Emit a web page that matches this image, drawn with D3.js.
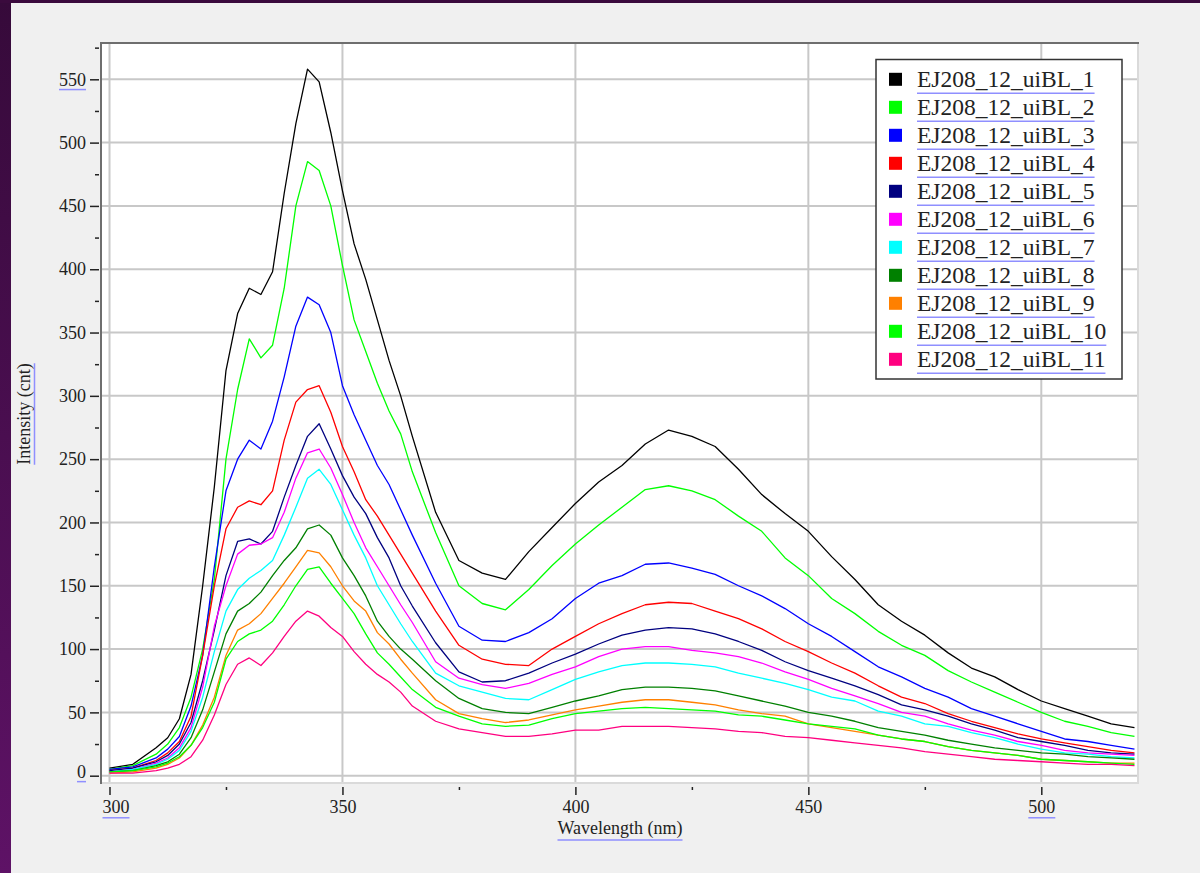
<!DOCTYPE html>
<html>
<head>
<meta charset="utf-8">
<script src="https://cdn.jsdelivr.net/npm/d3@7"></script>
<style>
html, body { margin: 0; padding: 0; background: #f0f0f0; }
svg { display: block; }
text { font-family: "Liberation Serif", "Times New Roman", serif; fill: #222; }
</style>
</head>
<body>
<svg id="chart" width="1200" height="873"></svg>
<script>
// wavelength grid (nm) the spectra were read at
const wavelengths = [300, 305, 310, 312.5, 315, 317.5, 320, 322.5, 325, 327.5, 330, 332.5, 335, 337.5,
    340, 342.5, 345, 347.5, 350, 352.5, 355, 357.5, 360, 362.5, 365,
    370, 375, 380, 385, 390, 395, 400, 405, 410, 415, 420, 425, 430, 435, 440, 445, 450,
    455, 460, 465, 470, 475, 480, 485, 490, 495, 500, 505, 510, 515, 520];

// intensity (cnt), one array per measurement
const ej1 = [6, 9, 22, 30, 45, 80, 150, 228, 320, 365, 385, 380, 398, 460, 515, 558, 548, 508, 462, 420, 392, 360, 328, 300, 268,
    208, 170, 160, 155, 177, 196, 215, 232, 245, 262, 273, 268, 260, 242, 222, 207, 193, 173, 155, 135, 122, 111, 97, 85, 78, 68, 59, 53, 47, 41, 38];
const ej2 = [5, 8, 17, 25, 38, 62, 100, 155, 250, 305, 345, 330, 340, 385, 450, 485, 478, 450, 403, 360, 335, 310, 288, 270, 240,
    192, 150, 136, 131, 147, 166, 183, 198, 212, 226, 229, 225, 218, 205, 193, 172, 158, 140, 128, 114, 103, 95, 83, 74, 66, 58, 50, 43, 39, 34, 31];
const ej3 = [5, 7, 14, 21, 31, 55, 95, 165, 225, 250, 265, 258, 280, 315, 355, 378, 372, 350, 308, 285, 265, 245, 230, 210, 190,
    152, 118, 107, 106, 113, 124, 140, 152, 158, 167, 168, 164, 159, 150, 142, 132, 120, 110, 98, 86, 78, 69, 62, 53, 47, 41, 35, 29, 27, 24, 21];
const ej4 = [4, 6, 12, 18, 27, 47, 95, 150, 195, 212, 217, 214, 225, 265, 295, 305, 308, 287, 260, 240, 218, 205, 190, 175, 160,
    130, 103, 92, 88, 87, 100, 110, 120, 128, 135, 137, 136, 130, 124, 116, 106, 98, 89, 81, 71, 62, 57, 49, 43, 38, 33, 29, 26, 23, 20, 18];
const ej5 = [4, 6, 11, 16, 25, 42, 75, 115, 158, 185, 187, 183, 193, 220, 245, 268, 278, 258, 237, 220, 207, 188, 172, 150, 134,
    105, 82, 74, 75, 81, 89, 96, 104, 111, 115, 117, 116, 112, 106, 99, 90, 83, 77, 71, 64, 56, 52, 47, 41, 36, 30, 27, 24, 20, 18, 17];
const ej6 = [3, 5, 10, 14, 22, 38, 70, 118, 150, 175, 182, 183, 188, 208, 235, 255, 258, 243, 222, 200, 180, 165, 150, 135, 121,
    90, 77, 72, 69, 73, 80, 86, 94, 100, 102, 102, 99, 97, 94, 89, 82, 76, 69, 63, 57, 50, 47, 41, 36, 32, 27, 24, 20, 18, 17, 16];
const ej7 = [3, 5, 9, 13, 20, 35, 62, 98, 130, 147, 156, 162, 170, 190, 212, 235, 242, 230, 210, 190, 172, 150, 135, 120, 106,
    81, 71, 66, 61, 60, 68, 76, 82, 87, 89, 89, 88, 86, 81, 77, 73, 68, 62, 59, 51, 47, 41, 39, 34, 30, 25, 21, 18, 17, 15, 14];
const ej8 = [3, 4, 8, 11, 17, 30, 52, 82, 112, 130, 136, 145, 158, 170, 180, 195, 198, 190, 172, 158, 142, 122, 110, 100, 92,
    75, 61, 53, 50, 49, 54, 59, 63, 68, 70, 70, 69, 67, 63, 59, 55, 50, 47, 43, 38, 35, 32, 28, 25, 22, 20, 18, 17, 15, 14, 13];
const ej9 = [2, 3, 6, 9, 14, 24, 40, 62, 95, 115, 120, 128, 140, 152, 165, 178, 176, 165, 150, 138, 130, 113, 104, 92, 81,
    60, 49, 45, 42, 44, 48, 52, 55, 58, 60, 60, 58, 56, 52, 49, 47, 41, 38, 35, 32, 29, 27, 23, 20, 18, 16, 13, 12, 11, 10, 10];
const ej10 = [3, 4, 7, 10, 15, 24, 38, 58, 92, 106, 112, 115, 122, 135, 150, 163, 165, 152, 140, 128, 112, 97, 88, 78, 68,
    54, 47, 41, 39, 40, 45, 49, 51, 53, 54, 53, 52, 51, 48, 47, 44, 41, 39, 37, 32, 29, 27, 23, 20, 18, 16, 13, 12, 11, 10, 9];
const ej11 = [2, 2, 4, 6, 9, 15, 28, 48, 72, 88, 93, 87, 97, 110, 122, 130, 126, 117, 110, 98, 88, 80, 74, 66, 55,
    43, 37, 34, 31, 31, 33, 36, 36, 39, 39, 39, 38, 37, 35, 34, 31, 30, 28, 26, 24, 22, 19, 17, 15, 13, 12, 11, 10, 9, 9, 8];

const seriesNames = ["EJ208_12_uiBL_1", "EJ208_12_uiBL_2", "EJ208_12_uiBL_3", "EJ208_12_uiBL_4", "EJ208_12_uiBL_5",
    "EJ208_12_uiBL_6", "EJ208_12_uiBL_7", "EJ208_12_uiBL_8", "EJ208_12_uiBL_9", "EJ208_12_uiBL_10", "EJ208_12_uiBL_11"];
const seriesValues = [ej1, ej2, ej3, ej4, ej5, ej6, ej7, ej8, ej9, ej10, ej11];
const seriesColors = ["#000000", "#00ff00", "#0000ff", "#ff0000", "#000080", "#ff00ff",
    "#00ffff", "#008000", "#ff8000", "#00ff00", "#ff0080"];

const xMajor = [300, 350, 400, 450, 500];
const xMinor = [325, 375, 425, 475];
const yMajor = [0, 50, 100, 150, 200, 250, 300, 350, 400, 450, 500, 550];
const yMinor = [25, 75, 125, 175, 225, 275, 325, 375, 425, 475, 525, 575];

const svg = d3.select("#chart");
const W = 1200, H = 873;
const plot = {left: 102, top: 44, right: 1137, bottom: 782};
const linkBlue = "#8f8fff";

const x = d3.scaleLinear().domain([300, 500]).range([109.5, 1041.3]);
const y = d3.scaleLinear().domain([0, 550]).range([775.7, 79.3]);

// window background + purple edge
let defs = svg.append("defs");
let grad = defs.append("linearGradient").attr("id", "edge")
    .attr("x1", 0).attr("y1", 0).attr("x2", 0).attr("y2", 1);
grad.append("stop").attr("offset", "0%").attr("stop-color", "#360a3a");
grad.append("stop").attr("offset", "100%").attr("stop-color", "#5e1266");
defs.append("clipPath").attr("id", "plotclip").append("rect")
    .attr("x", plot.left).attr("y", plot.top)
    .attr("width", plot.right - plot.left).attr("height", plot.bottom - plot.top);

svg.append("rect").attr("width", W).attr("height", H).attr("fill", "#f0f0f0");
svg.append("rect").attr("x", 0).attr("y", 0).attr("width", 11).attr("height", H).attr("fill", "url(#edge)");
svg.append("rect").attr("x", 0).attr("y", 0).attr("width", W).attr("height", 3).attr("fill", "#3a0a3d");

// plot area
svg.append("rect")
    .attr("x", plot.left).attr("y", plot.top)
    .attr("width", plot.right - plot.left).attr("height", plot.bottom - plot.top)
    .attr("fill", "#ffffff");

// grid
let grid = svg.append("g").attr("stroke", "#c8c8c8").attr("stroke-width", 2);
grid.selectAll(".hgrid").data(yMajor).enter().append("line")
    .attr("class", "hgrid")
    .attr("x1", plot.left).attr("x2", plot.right)
    .attr("y1", d => y(d)).attr("y2", d => y(d));
grid.selectAll(".vgrid").data(xMajor).enter().append("line")
    .attr("class", "vgrid")
    .attr("y1", plot.top).attr("y2", plot.bottom)
    .attr("x1", d => x(d)).attr("x2", d => x(d));

// spectra
let line = d3.line()
    .x((d, i) => x(wavelengths[i]))
    .y(d => y(d));

svg.append("g").attr("clip-path", "url(#plotclip)")
    .selectAll("path").data(seriesValues).enter().append("path")
    .attr("d", d => line(d))
    .attr("fill", "none")
    .attr("stroke", (d, i) => seriesColors[i])
    .attr("stroke-width", 1.3)
    .attr("stroke-linejoin", "round");

// frame (sunken look)
svg.append("line").attr("x1", 100).attr("x2", 1139).attr("y1", 43).attr("y2", 43)
    .attr("stroke", "#6e6e6e").attr("stroke-width", 2);
svg.append("line").attr("x1", 101).attr("x2", 101).attr("y1", 42).attr("y2", 784)
    .attr("stroke", "#6e6e6e").attr("stroke-width", 2);
svg.append("line").attr("x1", 102).attr("x2", 1139).attr("y1", 783).attr("y2", 783)
    .attr("stroke", "#dadada").attr("stroke-width", 2);
svg.append("line").attr("x1", 1138).attr("x2", 1138).attr("y1", 44).attr("y2", 784)
    .attr("stroke", "#dadada").attr("stroke-width", 2);

// y axis
let yAxisG = svg.append("g").attr("transform", "translate(99,0)")
    .call(d3.axisLeft(y).tickValues(yMajor).tickSize(9).tickPadding(4).tickFormat(d3.format("d")));
svg.append("g").attr("transform", "translate(99,0)")
    .call(d3.axisLeft(y).tickValues(yMinor).tickSize(4).tickFormat(""));

// x axis
let xAxisG = svg.append("g").attr("transform", "translate(0,787)")
    .call(d3.axisBottom(x).tickValues(xMajor).tickSize(8).tickPadding(5).tickFormat(d3.format("d")));
svg.append("g").attr("transform", "translate(0,787)")
    .call(d3.axisBottom(x).tickValues(xMinor).tickSize(3).tickFormat(""));

svg.selectAll(".domain").remove();
svg.selectAll(".tick line").attr("stroke", "#222").attr("stroke-width", 1.5);
svg.selectAll(".tick text")
    .attr("font-family", "'Liberation Serif', 'Times New Roman', serif")
    .attr("font-size", 18)
    .attr("fill", "#222");

// first labels nudged inside like the original
yAxisG.selectAll(".tick text").filter(d => d === 0).attr("dy", "0.08em");
xAxisG.selectAll(".tick text").filter(d => d === 300).attr("text-anchor", "start").attr("x", -7.5);

// underline end labels
function underline(sel, gap) {
    sel.each(function () {
        let b = this.getBBox();
        let parent = d3.select(this.parentNode);
        let ty = +d3.select(this).attr("y") || 0;
        parent.append("line")
            .attr("x1", b.x).attr("x2", b.x + b.width)
            .attr("y1", b.y + b.height + gap).attr("y2", b.y + b.height + gap)
            .attr("stroke", linkBlue).attr("stroke-width", 1.5);
    });
}
underline(yAxisG.selectAll(".tick text").filter(d => d === 0 || d === 550), 0);
underline(xAxisG.selectAll(".tick text").filter(d => d === 300 || d === 500), 1);

// axis titles
let yTitle = svg.append("g").attr("transform", "translate(30,414) rotate(-90)");
let yt = yTitle.append("text").attr("text-anchor", "middle").attr("font-size", 18).text("Intensity (cnt)");
let ytw = yt.node().getComputedTextLength();
yTitle.append("line").attr("x1", -ytw / 2).attr("x2", ytw / 2).attr("y1", 4.5).attr("y2", 4.5)
    .attr("stroke", linkBlue).attr("stroke-width", 1.5);

let xt = svg.append("text").attr("x", 620).attr("y", 834).attr("text-anchor", "middle")
    .attr("font-size", 18).text("Wavelength (nm)");
let xtw = xt.node().getComputedTextLength();
svg.append("line").attr("x1", 620 - xtw / 2).attr("x2", 620 + xtw / 2).attr("y1", 840).attr("y2", 840)
    .attr("stroke", linkBlue).attr("stroke-width", 1.5);

// legend
let legend = svg.append("g");
legend.append("rect")
    .attr("x", 876).attr("y", 59.5).attr("width", 246).attr("height", 319.5)
    .attr("fill", "#ffffff").attr("stroke", "#333").attr("stroke-width", 1.5);

let rows = legend.selectAll(".row").data(seriesNames).enter().append("g")
    .attr("class", "row")
    .attr("transform", (d, i) => "translate(0," + (79.3 + i * 28) + ")");
rows.append("rect")
    .attr("x", 889).attr("y", -6.5).attr("width", 13).attr("height", 13)
    .attr("fill", (d, i) => seriesColors[i]);
rows.append("text")
    .attr("x", 917).attr("y", 8)
    .attr("font-size", 23.5)
    .attr("fill", "#111")
    .text(d => d);
rows.each(function () {
    let row = d3.select(this);
    let w = row.select("text").node().getComputedTextLength();
    row.append("line").attr("x1", 917).attr("x2", 917 + w).attr("y1", 14).attr("y2", 14)
        .attr("stroke", linkBlue).attr("stroke-width", 1.5);
});
</script>
</body>
</html>
